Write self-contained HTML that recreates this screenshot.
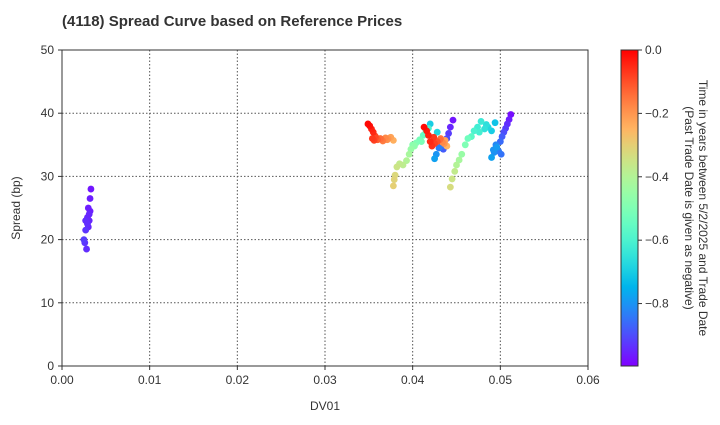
<!DOCTYPE html>
<html><head><meta charset="utf-8"><style>
body{margin:0;background:#fff;}
svg text{font-family:"Liberation Sans",Arial,sans-serif;fill:#333;}
</style></head><body>
<svg width="720" height="420" viewBox="0 0 720 420" xmlns="http://www.w3.org/2000/svg">
<defs>
<linearGradient id="cbg" x1="0" y1="1" x2="0" y2="0"></linearGradient>
</defs>
<text x="62" y="26" font-size="15" font-weight="bold">(4118)   Spread Curve based on Reference Prices</text>
<g id="grid"></g>
<g id="pts"></g>
<rect x="62" y="50" width="526" height="316" fill="none" stroke="#333" stroke-width="1"/>
<g id="xt"></g>
<g id="yt"></g>
<text x="325" y="410" font-size="12" text-anchor="middle">DV01</text>
<text transform="translate(20,208) rotate(-90)" font-size="12" text-anchor="middle">Spread (bp)</text>
<rect x="621" y="50" width="17" height="316" fill="url(#cbg)" stroke="#333" stroke-width="1"/>
<g id="ct"></g>
<text transform="translate(699,208) rotate(90)" font-size="12" text-anchor="middle"><tspan x="0" dy="0">Time in years between 5/2/2025 and Trade Date</tspan><tspan x="0" dy="14">(Past Trade Date is given as negative)</tspan></text>
</svg>
<script>
const xTicks=[0,0.01,0.02,0.03,0.04,0.05,0.06];
const xTickLabels=["0.00","0.01","0.02","0.03","0.04","0.05","0.06"];
const yTicks=[0,10,20,30,40,50];
const cTicks=[0,-0.2,-0.4,-0.6,-0.8];
const cTickLabels=["0.0","\u22120.2","\u22120.4","\u22120.6","\u22120.8"];
const dv01=[0.0025,0.0026,0.0027,0.0028,0.0027,0.0029,0.003,0.0031,0.003,0.0032,0.0033,0.0031,0.0032,0.0029,
0.0349,0.0351,0.0353,0.0355,0.0354,0.0356,0.0358,0.036,0.0363,0.0366,0.0369,0.0372,0.0375,0.0378,0.0357,0.0364,0.0371,
0.0378,0.0379,0.038,0.0382,0.0385,0.0389,0.0393,0.0396,0.0398,0.04,0.0404,0.0408,0.0412,0.0415,0.0418,0.042,0.0402,0.0410,
0.0425,0.0427,0.043,0.0428,0.0431,0.0435,0.0439,0.0441,0.0443,0.0446,0.0433,0.0437,
0.0413,0.0416,0.0418,0.042,0.0422,0.0425,0.0428,0.0431,0.0434,0.0437,0.0439,0.0424,0.0432,0.0436,
0.0443,0.0445,0.0448,0.045,0.0453,0.0456,0.046,0.0463,0.0467,0.047,0.0474,0.0478,0.0482,0.0486,0.049,0.0494,0.0484,0.0476,
0.049,0.0492,0.0495,0.0498,0.05,0.0502,0.0504,0.0506,0.0508,0.051,0.0512,0.0501,0.0496,0.0493];
const spread=[20,19.5,21.5,18.5,23,23.5,22,24,25,26.5,28,23,24.5,22.5,
38.3,38,37.5,37,36,35.7,36.2,35.8,36,35.6,36.1,36,36.2,35.7,36.4,35.9,35.8,
28.5,29.5,30.2,31.5,32,31.8,32.5,33.5,34.3,35,35.3,35.8,36.5,37.3,37.6,38.3,34.8,35.5,
32.8,33.5,34.5,37,35.6,34.3,36,36.8,37.8,38.9,34.8,35.0,
37.8,37.2,36.5,35.5,34.8,35.2,35.5,35.8,35.4,35.7,34.8,36.2,36.0,35.2,
28.3,29.6,30.8,31.8,32.6,33.5,35,36,36.3,37.2,37.8,38.7,37.5,37.8,37.2,38.5,38.2,37.0,
33,34.2,35,34,35.5,36.3,37,37.6,38.3,39,39.8,33.5,34.6,33.8];
const tval=[-0.92,-0.93,-0.93,-0.94,-0.94,-0.95,-0.95,-0.95,-0.96,-0.96,-0.97,-0.95,-0.96,-0.94,
-0.01,-0.02,-0.04,-0.05,-0.07,-0.08,-0.1,-0.12,-0.14,-0.16,-0.18,-0.2,-0.22,-0.24,-0.09,-0.15,-0.19,
-0.3,-0.31,-0.32,-0.35,-0.37,-0.38,-0.4,-0.42,-0.45,-0.48,-0.5,-0.52,-0.55,-0.58,-0.6,-0.7,-0.47,-0.51,
-0.78,-0.8,-0.83,-0.68,-0.86,-0.88,-0.9,-0.92,-0.95,-0.97,-0.85,-0.87,
-0.01,-0.03,-0.04,-0.05,-0.06,-0.08,-0.1,-0.14,-0.18,-0.22,-0.25,-0.07,-0.16,-0.2,
-0.33,-0.35,-0.37,-0.4,-0.42,-0.45,-0.5,-0.53,-0.57,-0.6,-0.62,-0.63,-0.65,-0.68,-0.7,-0.72,-0.66,-0.61,
-0.78,-0.8,-0.82,-0.84,-0.86,-0.88,-0.9,-0.92,-0.94,-0.96,-0.98,-0.85,-0.79,-0.81];
const X0=62,X1=588,Y0=366,Y1=50,CMIN=-0.997,CMAX=0;
const sx=v=>X0+(v-0)/(0.06-0)*(X1-X0);
const sy=v=>Y0-(v-0)/(50-0)*(Y0-Y1);
const sc=v=>Y0-(v-CMIN)/(CMAX-CMIN)*(Y0-Y1);
function rainbow(x){x=Math.max(0,Math.min(1,x));
 const r=Math.min(1,Math.abs(2*x-0.5)),g=Math.sin(Math.PI*x),b=Math.cos(Math.PI*x/2);
 return `rgb(${Math.round(r*255)},${Math.round(g*255)},${Math.round(b*255)})`;}
const NS="http://www.w3.org/2000/svg";
function mk(tag,attrs,parent){const e=document.createElementNS(NS,tag);for(const k in attrs)e.setAttribute(k,attrs[k]);parent.appendChild(e);return e;}
const grid=document.getElementById('grid'),xt=document.getElementById('xt'),yt=document.getElementById('yt'),ct=document.getElementById('ct'),pts=document.getElementById('pts');
xTicks.forEach((v,i)=>{const x=sx(v);
 if(i>0&&i<xTicks.length-1){const l=mk('line',{x1:x,x2:x,y1:Y1,y2:Y0,stroke:'#555','stroke-dasharray':'1.5,2','stroke-width':1},grid);
 
 }
 const tk=mk('line',{x1:x,x2:x,y1:Y0,y2:Y0+4,stroke:'#333'},xt);
 
 
 const t=mk('text',{x:x,y:Y0+18,'font-size':12,'text-anchor':'middle'},xt);t.textContent=xTickLabels[i];
 
 });
yTicks.forEach((v,i)=>{const y=sy(v);
 if(i>0&&i<yTicks.length-1){const l=mk('line',{x1:X0,x2:X1,y1:y,y2:y,stroke:'#555','stroke-dasharray':'1.5,2','stroke-width':1},grid);
 
 }
 const tk=mk('line',{x1:X0-4,x2:X0,y1:y,y2:y,stroke:'#333'},yt);
 
 
 const t=mk('text',{x:X0-8,y:y+4,'font-size':12,'text-anchor':'end'},yt);t.textContent=String(v);
 
 });
const grad=document.getElementById('cbg');
for(let i=0;i<=20;i++){mk('stop',{offset:(i/20),'stop-color':rainbow(i/20)},grad);}
cTicks.forEach((v,i)=>{const y=sc(v);
 const tk=mk('line',{x1:638,x2:642,y1:y,y2:y,stroke:'#333'},ct);
 
 
 const t=mk('text',{x:645,y:y+4,'font-size':12},ct);t.textContent=cTickLabels[i];
 
 });
const order=dv01.map((_,i)=>i).sort((a,b)=>tval[a]-tval[b]);
order.forEach(i=>{const c=mk('circle',{cx:sx(dv01[i]),cy:sy(spread[i]),r:3.4,fill:rainbow((tval[i]-CMIN)/(CMAX-CMIN))},pts);
 
 });
</script>
</body></html>
